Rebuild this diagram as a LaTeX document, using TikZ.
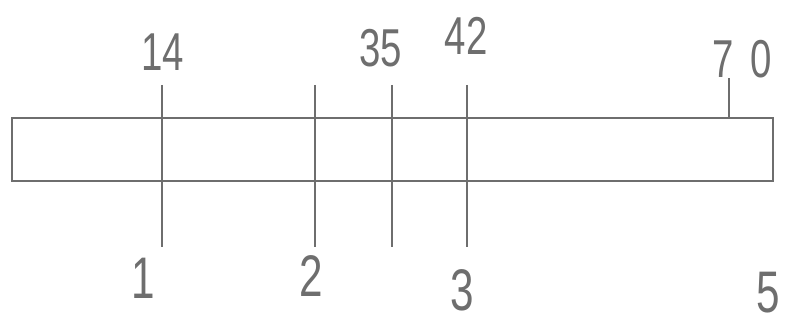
\documentclass[tikz,border=0pt]{standalone}
\usepackage{fontspec}
\setmainfont{Liberation Sans}
\definecolor{pen}{HTML}{6E6E6E}
\begin{document}
\begin{tikzpicture}[x=0.75pt,y=-0.75pt,
	stroke/.style={draw=pen,line width=1.8pt},
	toplbl/.style={text=pen,font=\fontsize{40}{40}\selectfont,xscale=0.72,inner sep=0pt},
	botlbl/.style={text=pen,font=\fontsize{44}{44}\selectfont,xscale=0.72,inner sep=0pt}]
	\useasboundingbox (0,0) rectangle (792,324);
	% bar
	\draw[stroke] (12,118) rectangle (773,181);
	% cuts
	\foreach \x in {162,315,392,467} \draw[stroke] (\x,85)--(\x,247);
	% marks above
	\node[toplbl] (t14) at (163,52) {14};
	\node[toplbl] (t35) at (381,48) {35};
	\node[toplbl] (t42) at (466,36) {42};
	\node[toplbl,anchor=south west] (t70) at (712,78) {7\hspace{18pt}0};
	\coordinate (c70) at (729,118);
	\draw[stroke] (c70)--(t70.south west -| c70);
	% numbers below
	\node[botlbl] (b1) at (143,278) {1};
	\node[botlbl] (b2) at (311,276) {2};
	\node[botlbl] (b3) at (462,290) {3};
	\node[botlbl] (b5) at (768,293) {5};
\end{tikzpicture}
\end{document}
